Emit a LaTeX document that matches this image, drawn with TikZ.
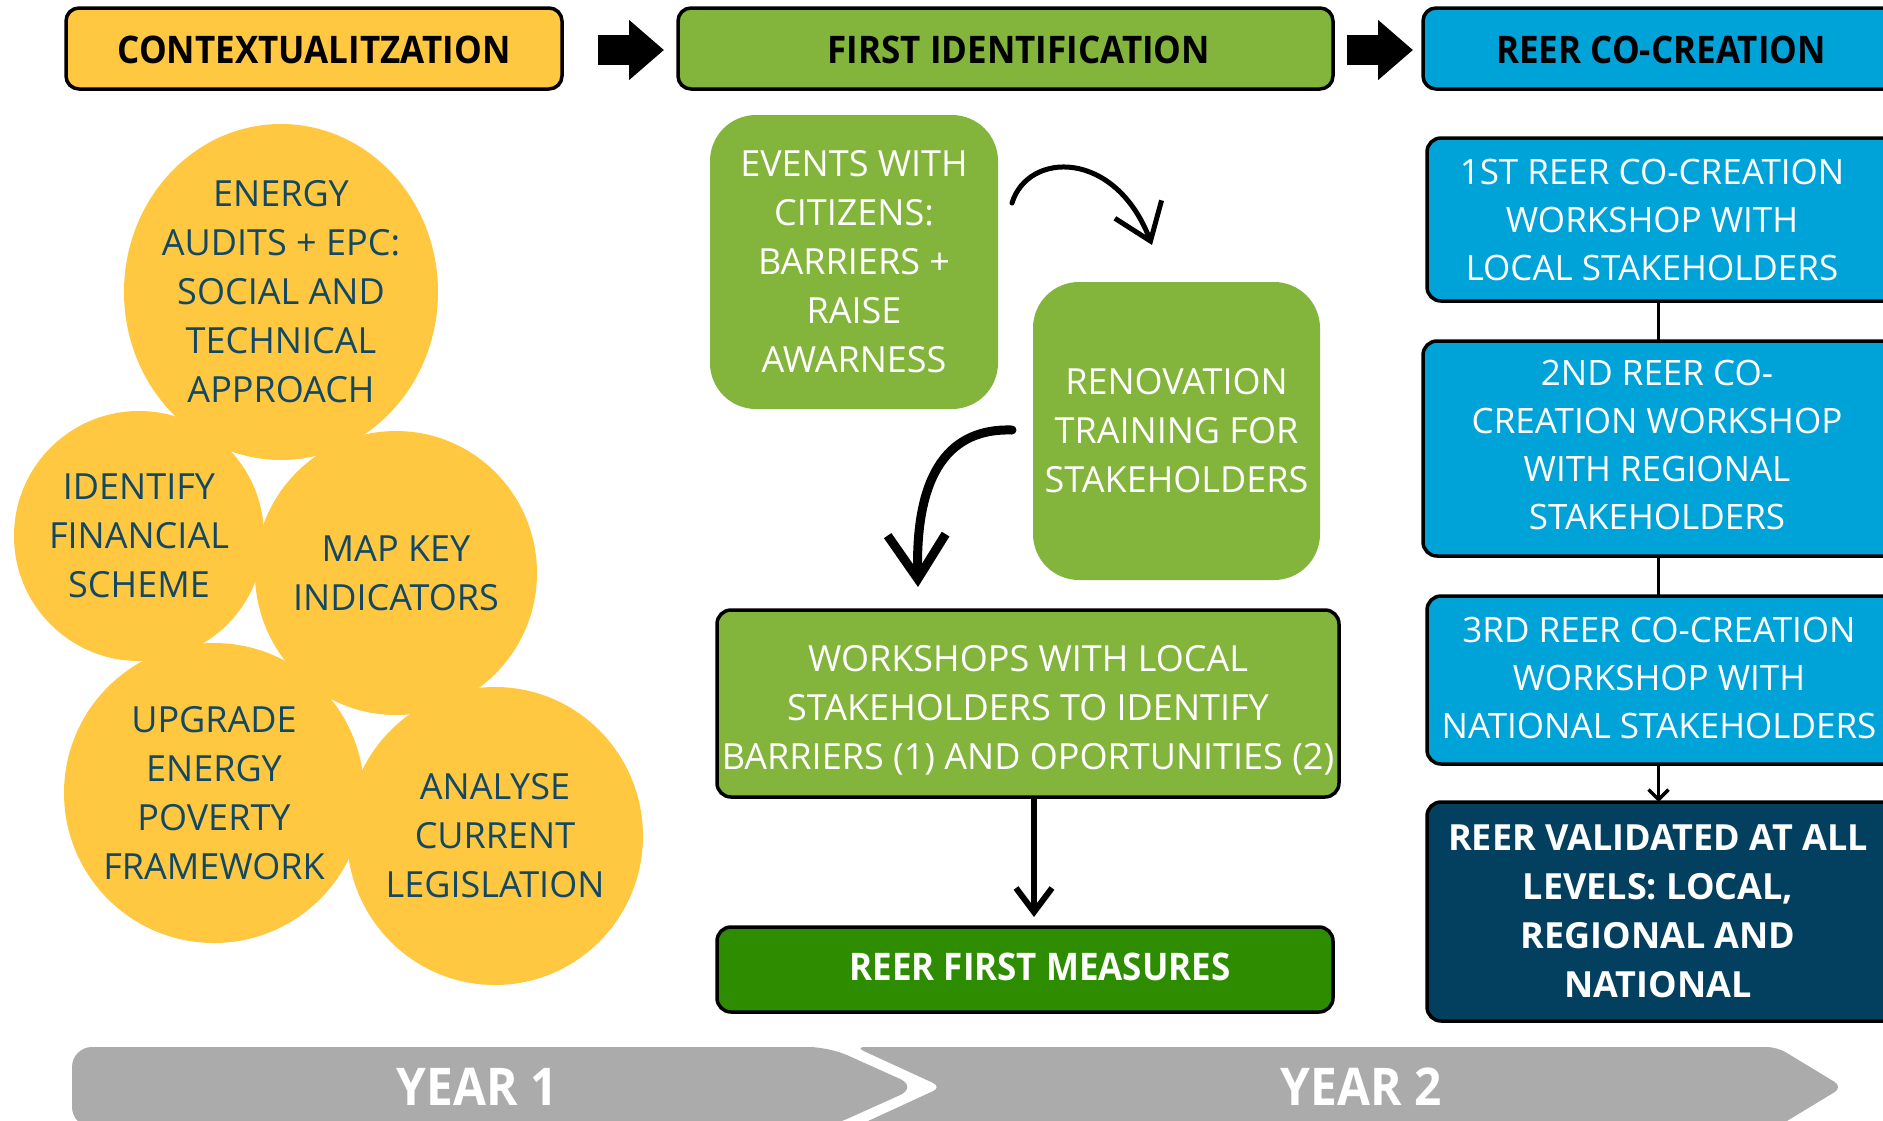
\documentclass[tikz,border=0pt]{standalone}
\usepackage{fontspec}
\setmainfont{Open Sans}
\newfontfamily\condb[FakeStretch=0.92]{Open Sans}
\usetikzlibrary{arrows.meta,shapes.geometric,calc}
\definecolor{yel}{RGB}{255,200,64}
\definecolor{grn}{RGB}{131,180,60}
\definecolor{dgrn}{RGB}{46,140,0}
\definecolor{blu}{RGB}{0,163,216}
\definecolor{navy}{RGB}{3,63,94}
\definecolor{gry}{RGB}{171,171,171}
\definecolor{ctext}{RGB}{18,72,100}
\begin{document}
\begin{tikzpicture}[x=1pt,y=-1pt,
  every node/.style={inner sep=0pt,outer sep=0pt},
  body/.style={font=\fontsize{36}{49}\selectfont,align=center},
  hdr/.style={draw=black,line width=3.5pt,rounded corners=13pt,minimum height=81pt},
  hdrtxt/.style={font=\condb\bfseries\fontsize{38}{46}\selectfont,text=black},
  circ/.style={ellipse,fill=yel},
  ctxt/.style={body,text=ctext},
  soft/.style={fill=grn,text=white,rounded corners=46pt,body},
  sbox/.style={draw=black,line width=3.5pt,rounded corners=14pt},
  rtxt/.style={text=white,align=center,font=\fontsize{35}{48}\selectfont},
  blockarr/.style={line width=30pt,-{Triangle[length=35pt,width=58pt]}},
  conn/.style={line width=3.5pt},
  yeartxt/.style={font=\condb\bfseries\fontsize{52}{60}\selectfont,text=white}
]
\path[use as bounding box] (0,0) rectangle (1883,1120);
\clip (0,0) rectangle (1883,1120);
\fill[white] (0,0) rectangle (1883,1120);

% headers
\node[hdr,fill=yel,minimum width=496pt] (h1) at (314,48.5) {};
\node[hdr,fill=grn,minimum width=655pt] (h2) at (1005.5,48.5) {};
\node[hdr,fill=blu,minimum width=477pt] (h3) at (1661.5,48.5) {};
\node[hdrtxt] (h1t) at (314,50) {CONTEXTUALITZATION};
\node[hdrtxt] (h2t) at (1019,50) {FIRST IDENTIFICATION};
\node[hdrtxt] (h3t) at (1661,50) {REER CO-CREATION};
\draw[blockarr] ([xshift=36pt,yshift=-1.5pt]h1.east) -- ([xshift=-14pt,yshift=-1.5pt]h2.west);
\draw[blockarr] ([xshift=14pt,yshift=-1.5pt]h2.east) -- ([xshift=-10pt,yshift=-1.5pt]h3.west);

% circles
\node[circ,minimum width=314pt,minimum height=336pt] (c1) at (281,292) {};
\node[circ,minimum width=250pt,minimum height=250pt] (c2) at (139,536) {};
\node[circ,minimum width=282pt,minimum height=284pt] (c3) at (396,573) {};
\node[circ,minimum width=300pt,minimum height=300pt] (c4) at (214,793) {};
\node[circ,minimum width=296pt,minimum height=298pt] (c5) at (495,836) {};
\node[ctxt] (c1t) at (c1) {ENERGY\\AUDITS + EPC:\\SOCIAL AND\\TECHNICAL\\APPROACH};
\node[ctxt] (c2t) at (c2) {IDENTIFY\\FINANCIAL\\SCHEME};
\node[ctxt] (c3t) at (c3) {MAP KEY\\INDICATORS};
\node[ctxt] (c4t) at (c4) {UPGRADE\\ENERGY\\POVERTY\\FRAMEWORK};
\node[ctxt] (c5t) at (c5) {ANALYSE\\CURRENT\\LEGISLATION};

% middle column
\node[soft,minimum width=288pt,minimum height=294pt] (ev) at (854,262) {EVENTS WITH\\CITIZENS:\\BARRIERS +\\RAISE\\AWARNESS};
\node[soft,minimum width=287pt,minimum height=298pt] (rt) at (1176.5,431) {RENOVATION\\TRAINING FOR\\STAKEHOLDERS};
\node[sbox,fill=grn,minimum width=622pt,minimum height=187pt] (ws) at (1028,703.5) {};
\node[body,text=white] (wst) at (1028,710)
  {WORKSHOPS WITH LOCAL\\STAKEHOLDERS TO IDENTIFY\\BARRIERS (1) AND OPORTUNITIES (2)};
\node[sbox,fill=dgrn,minimum width=616pt,minimum height=85pt] (rfm) at (1025,969.5) {};
\node[font=\condb\bfseries\fontsize{38}{46}\selectfont,text=white] (rfmt) at (1040,967) {REER FIRST MEASURES};

\draw[line width=5pt,line cap=round,-{Straight Barb[length=34pt,width=50pt]}]
  ($(ev.east)+(14,-59)$) .. controls ($(ev.east)+(30,-111)$) and ($(ev.east)+(117,-113)$) .. ($(rt.north west)+(119,-37)$);
\draw[line width=9pt,line cap=round,-{Straight Barb[length=44pt,width=58pt]}]
  ($(rt.west)+(-21,-1)$) .. controls ($(rt.west)+(-83,-3)$) and ($(ws.north)+(-113,-138)$) .. ($(ws.north)+(-110,-23)$);
\draw[line width=6pt,-{Straight Barb[length=24pt,width=36pt]},shorten >=10pt]
  ([xshift=6pt]ws.south) -- ([xshift=6pt]ws.south |- rfm.north);

% right column
\node[sbox,fill=blu,minimum width=473pt,minimum height=163pt] (b1) at (1663.5,219.5) {};
\node[sbox,fill=blu,minimum width=477pt,minimum height=215pt] (b2) at (1661.5,448.5) {};
\node[sbox,fill=blu,minimum width=473pt,minimum height=168pt] (b3) at (1663.5,680) {};
\node[sbox,fill=navy,minimum width=473pt,minimum height=219pt] (b4) at (1663.5,911.5) {};
\node[rtxt] (b1t) at (1652,220) {1ST REER CO-CREATION\\WORKSHOP WITH\\LOCAL STAKEHOLDERS};
\node[rtxt] (b2t) at (1657,445) {2ND REER CO-\\CREATION WORKSHOP\\WITH REGIONAL\\STAKEHOLDERS};
\node[rtxt] (b3t) at (1659,678) {3RD REER CO-CREATION\\WORKSHOP WITH\\NATIONAL STAKEHOLDERS};
\node[rtxt,font=\bfseries\fontsize{36}{49}\selectfont] (b4t) at (1658,911.5)
  {REER VALIDATED AT ALL\\LEVELS: LOCAL,\\REGIONAL AND\\NATIONAL};
\draw[conn] ([xshift=-5pt]b1.south) -- ([xshift=-5pt]b1.south |- b2.north);
\draw[conn] ([xshift=-3pt]b2.south) -- ([xshift=-3pt]b2.south |- b3.north);
\draw[conn,-{Straight Barb[length=10pt,width=20pt]}] ([xshift=-5pt]b3.south) -- ([xshift=-5pt]b3.south |- b4.north);

% year bar
\fill[gry,rounded corners=10pt] (942,1087) -- (855,1047) -- (1777,1047) -- (1843,1087) -- (1777,1127) -- (855,1127) -- cycle;
\fill[gry,rounded corners=20pt] (918,1087) -- (829,1047) -- (72,1047) -- (72,1127) -- (829,1127) -- cycle;
\node[yeartxt] (y1) at (477,1087) {YEAR 1};
\node[yeartxt] (y2) at (1361,1087) {YEAR 2};
\end{tikzpicture}
\end{document}
